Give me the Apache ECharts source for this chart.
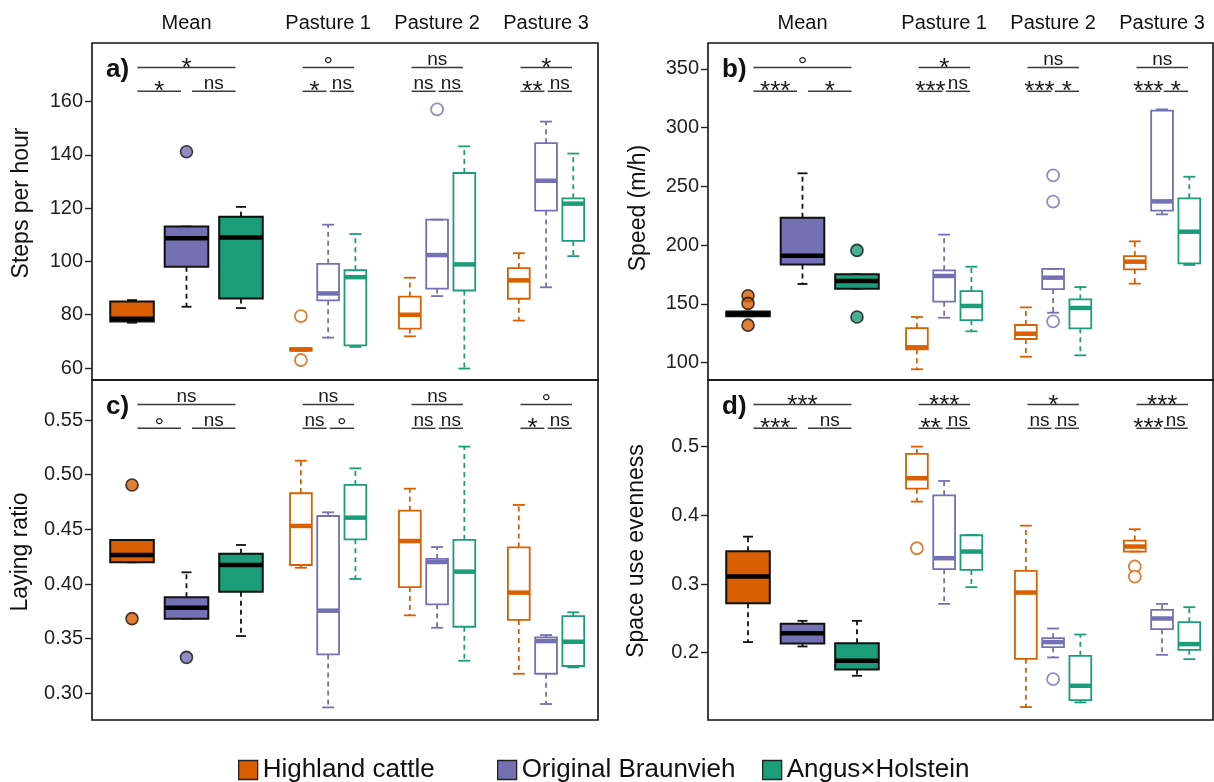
<!DOCTYPE html>
<html>
<head>
<meta charset="utf-8">
<script src="https://cdn.jsdelivr.net/npm/echarts@6/dist/echarts.min.js"></script>
<style>
  html, body { margin: 0; padding: 0; background: #fff; }
  #chart { width: 1214px; height: 782px; }
</style>
</head>
<body>
<div id="chart"></div>
<script>
// ---- data -------------------------------------------------------------
const groupNames = ['Mean', 'Pasture 1', 'Pasture 2', 'Pasture 3'];
const breedNames = ['Highland cattle', 'Original Braunvieh', 'Angus×Holstein'];

// Box statistics per group (Mean, Pasture 1, 2, 3):
// [lower whisker, Q1, median, Q3, upper whisker]
const stepsHighland  = [[77, 77.5, 78.5, 85, 85.5], [66.5, 66.5, 67, 67.4, 67.4], [71.9, 74.8, 80, 86.8, 93.9], [77.8, 86, 92.9, 97.5, 103.1]];
const stepsBraunvieh = [[83, 98, 108.7, 113.1, 113.1], [71.4, 85.4, 88, 99.1, 113.8], [87, 89.8, 102.4, 115.7, 115.7], [90.3, 119.1, 130.3, 144.4, 152.5]];
const stepsAngus     = [[82.5, 86.1, 109, 116.8, 120.5], [67.9, 68.5, 94.1, 96.7, 110.3], [59.8, 89.1, 98.9, 133.2, 143.2], [102, 107.7, 121.7, 123.7, 140.5]];
const stepsOutHighland  = [[], [79.5, 63.0], [], []];
const stepsOutBraunvieh = [[141.2], [], [157.1], []];
const stepsOutAngus     = [[], [], [], []];
const stepsTicks = [60, 80, 100, 120, 140, 160];
const stepsSig = [['*', '*', 'ns'], ['°', '*', 'ns'], ['ns', 'ns', 'ns'], ['*', '**', 'ns']];

const speedHighland  = [[139.5, 139.5, 141.5, 143.5, 143.5], [94.4, 111.4, 113.1, 129.5, 138.9], [105.1, 120.2, 124.7, 132.1, 147.1], [167.3, 179.5, 186, 190.8, 203.3]];
const speedBraunvieh = [[167, 183.7, 191.1, 223.4, 261.2], [138.3, 152, 173.8, 178.6, 209], [142.6, 162.7, 172.4, 179.8, 179.8], [226.3, 229.4, 237.3, 314.5, 315.6]];
const speedAngus     = [[163, 163, 169.5, 175.2, 175.2], [126.7, 136.3, 148.3, 161, 181.7], [106.3, 129.3, 146.6, 153.9, 164.4], [183.2, 184.6, 211.5, 239.9, 258.3]];
const speedOutHighland  = [[157, 150.5, 132], [], [], []];
const speedOutBraunvieh = [[], [], [259.5, 237.1, 135.2], []];
const speedOutAngus     = [[195.6, 138.9], [], [], []];
const speedTicks = [100, 150, 200, 250, 300, 350];
const speedSig = [['°', '***', '*'], ['*', '***', 'ns'], ['ns', '***', '*'], ['ns', '***', '*']];

const layingHighland  = [[0.4198, 0.4198, 0.4265, 0.4403, 0.4403], [0.4149, 0.4174, 0.4531, 0.4830, 0.5128], [0.3713, 0.3972, 0.4393, 0.4671, 0.4872], [0.3179, 0.3671, 0.3921, 0.4335, 0.4723]];
const layingBraunvieh = [[0.3683, 0.3683, 0.3783, 0.3878, 0.4107], [0.2871, 0.3356, 0.3756, 0.4622, 0.4656], [0.3600, 0.3814, 0.4201, 0.4229, 0.4338], [0.2902, 0.3179, 0.3478, 0.3512, 0.3533]];
const layingAngus     = [[0.3524, 0.3930, 0.4174, 0.4277, 0.4357], [0.4046, 0.4409, 0.4607, 0.4906, 0.5058], [0.3298, 0.3609, 0.4113, 0.4403, 0.5257], [0.3237, 0.3250, 0.3472, 0.3707, 0.3741]];
const layingOutHighland  = [[0.4906, 0.3683], [], [], []];
const layingOutBraunvieh = [[0.3329], [], [], []];
const layingOutAngus     = [[], [], [], []];
const layingTicks = [0.30, 0.35, 0.40, 0.45, 0.50, 0.55];
const layingSig = [['ns', '°', 'ns'], ['ns', 'ns', '°'], ['ns', 'ns', 'ns'], ['°', '*', 'ns']];

const evenHighland  = [[0.2154, 0.2721, 0.3109, 0.3478, 0.3690], [0.4200, 0.4389, 0.4540, 0.4894, 0.5001], [0.1208, 0.1911, 0.2876, 0.3191, 0.3850], [0.3473, 0.3473, 0.3546, 0.3633, 0.3798]];
const evenBraunvieh = [[0.2091, 0.2134, 0.2284, 0.2420, 0.2464], [0.2711, 0.3216, 0.3376, 0.4292, 0.4501], [0.1931, 0.2081, 0.2154, 0.2212, 0.2352], [0.1969, 0.2343, 0.2498, 0.2624, 0.2711]];
const evenAngus     = [[0.1664, 0.1756, 0.1882, 0.2139, 0.2464], [0.2954, 0.3206, 0.3473, 0.3710, 0.3715], [0.1276, 0.1310, 0.1518, 0.1955, 0.2265], [0.1906, 0.2042, 0.2125, 0.2445, 0.2663]];
const evenOutHighland  = [[], [0.3521], [], [0.3255, 0.3109]];
const evenOutBraunvieh = [[], [], [0.1615], []];
const evenOutAngus     = [[], [], [], []];
const evenTicks = [0.2, 0.3, 0.4, 0.5];
const evenSig = [['***', '***', 'ns'], ['***', '**', 'ns'], ['*', 'ns', 'ns'], ['***', '***', 'ns']];

// ---- layout & style ---------------------------------------------------
const FONT = '"Liberation Sans", Arial, Helvetica, sans-serif';
const COLORS = ['#D95F02', '#7570B3', '#1B9E77'];
const X_MIN = -0.469;

const panels = [
  { tag: 'a)', title: 'Steps per hour', grid: { left: 92, top: 43, width: 506, height: 337 }, xMax: 18.107,
    yMin: 55.5, yMax: 182, ticks: stepsTicks, digits: 0, sig: stepsSig,
    stats: [stepsHighland, stepsBraunvieh, stepsAngus], out: [stepsOutHighland, stepsOutBraunvieh, stepsOutAngus],
    titlePos: [22, 203], showGroups: true },
  { tag: 'b)', title: 'Speed (m/h)', grid: { left: 708, top: 43, width: 505, height: 337 }, xMax: 18.07,
    yMin: 85.3, yMax: 372.1, ticks: speedTicks, digits: 0, sig: speedSig,
    stats: [speedHighland, speedBraunvieh, speedAngus], out: [speedOutHighland, speedOutBraunvieh, speedOutAngus],
    titlePos: [639, 208], showGroups: true },
  { tag: 'c)', title: 'Laying ratio', grid: { left: 92, top: 380, width: 506, height: 340 }, xMax: 18.107,
    yMin: 0.2756, yMax: 0.5866, ticks: layingTicks, digits: 2, sig: layingSig,
    stats: [layingHighland, layingBraunvieh, layingAngus], out: [layingOutHighland, layingOutBraunvieh, layingOutAngus],
    titlePos: [21, 552], showGroups: false },
  { tag: 'd)', title: 'Space use evenness', grid: { left: 708, top: 380, width: 505, height: 340 }, xMax: 18.07,
    yMin: 0.102, yMax: 0.5971, ticks: evenTicks, digits: 1, sig: evenSig,
    stats: [evenHighland, evenBraunvieh, evenAngus], out: [evenOutHighland, evenOutBraunvieh, evenOutAngus],
    titlePos: [637, 551], showGroups: false }
];

// position of a box on the x scale: the mean group is spread wider
function boxPos(g, b) { return g === 0 ? 1 + 2 * b : 7.2 + 4 * (g - 1) + b; }
const groupCentres = [0, 1, 2, 3].map(g => boxPos(g, 1));

function boxRenderer(b) {
  return function (params, api) {
    const g = params.dataIndex;
    const isMean = g === 0;
    const x = api.value(0);
    const pLo = api.coord([x, api.value(1)]);
    const pQ1 = api.coord([x, api.value(2)]);
    const pMed = api.coord([x, api.value(3)]);
    const pQ3 = api.coord([x, api.value(4)]);
    const pHi = api.coord([x, api.value(5)]);
    const halfW = api.size([isMean ? 1.6 : 0.8, 0])[0] / 2;
    const cap = isMean ? 5 : 6;
    const cx = pMed[0];
    const lineCol = isMean ? '#111' : COLORS[b];
    const lw = 1.8;
    const dash = [5, 4];
    const children = [];
    if (pHi[1] < pQ3[1] - 0.5) {
      children.push({ type: 'line', shape: { x1: cx, y1: pQ3[1], x2: cx, y2: pHi[1] }, style: { stroke: lineCol, lineWidth: lw, lineDash: dash } });
    }
    if (pLo[1] > pQ1[1] + 0.5) {
      children.push({ type: 'line', shape: { x1: cx, y1: pQ1[1], x2: cx, y2: pLo[1] }, style: { stroke: lineCol, lineWidth: lw, lineDash: dash } });
    }
    children.push({ type: 'line', shape: { x1: cx - cap, y1: pHi[1], x2: cx + cap, y2: pHi[1] }, style: { stroke: lineCol, lineWidth: lw } });
    children.push({ type: 'line', shape: { x1: cx - cap, y1: pLo[1], x2: cx + cap, y2: pLo[1] }, style: { stroke: lineCol, lineWidth: lw } });
    children.push({
      type: 'rect',
      shape: { x: cx - halfW, y: pQ3[1], width: halfW * 2, height: pQ1[1] - pQ3[1] },
      style: { fill: isMean ? COLORS[b] : 'rgba(255,255,255,0)', stroke: lineCol, lineWidth: isMean ? 2 : 1.8 }
    });
    children.push({
      type: 'line',
      shape: { x1: cx - halfW, y1: pMed[1], x2: cx + halfW, y2: pMed[1] },
      style: { stroke: isMean ? '#000' : COLORS[b], lineWidth: 4.5 }
    });
    return { type: 'group', children };
  };
}

function sigStyle(label) {
  if (/^\*+$/.test(label)) return { size: 26, dy: 1 };
  if (label === '°') return { size: 24, dy: -1 };
  return { size: 19, dy: -8 };
}

function sigRenderer(p) {
  return function (params, api) {
    const g = params.dataIndex;
    const labels = p.sig[g];
    const top = params.coordSys.y;
    const yTop = top + 24.5;
    const yLow = top + 48.3;
    let spans;
    if (g === 0) {
      spans = [[1.2, 4.8], [1.2, 2.8], [3.2, 4.8]];
    } else {
      const base = boxPos(g, 0);
      spans = [[base + 0.06, base + 1.95], [base + 0.06, base + 0.94], [base + 1.06, base + 1.95]];
    }
    const ys = [yTop, yLow, yLow];
    const children = [];
    spans.forEach((s, k) => {
      const x1 = api.coord([s[0], p.yMin])[0];
      const x2 = api.coord([s[1], p.yMin])[0];
      children.push({ type: 'line', shape: { x1, y1: ys[k], x2, y2: ys[k] }, style: { stroke: '#3a3a3a', lineWidth: 1.5 } });
      const st = sigStyle(labels[k]);
      children.push({
        type: 'text', x: (x1 + x2) / 2, y: ys[k] + st.dy,
        style: { text: labels[k], font: st.size + 'px ' + FONT, fill: '#1a1a1a', align: 'center', verticalAlign: 'middle' }
      });
    });
    if (g === 0) {
      children.push({
        type: 'text', x: params.coordSys.x + 14, y: top + 27,
        style: { text: p.tag, font: 'bold 26px ' + FONT, fill: '#111', align: 'left', verticalAlign: 'middle' }
      });
    }
    return { type: 'group', children };
  };
}

// ---- option -----------------------------------------------------------
const series = [];
panels.forEach((p, i) => {
  p.stats.forEach((stats, b) => {
    series.push({
      name: breedNames[b], type: 'custom', xAxisIndex: i, yAxisIndex: i,
      itemStyle: { color: COLORS[b] },
      encode: { x: 0, y: [1, 2, 3, 4, 5] },
      data: stats.map((s, g) => [boxPos(g, b)].concat(s)),
      renderItem: boxRenderer(b), silent: true
    });
  });
  p.out.forEach((outs, b) => {
    const data = [];
    outs.forEach((vals, g) => vals.forEach(v => data.push({
      value: [boxPos(g, b), v],
      itemStyle: g === 0
        ? { color: COLORS[b], borderColor: '#111', borderWidth: 1.6 }
        : { color: '#fff', borderColor: COLORS[b], borderWidth: 1.8 }
    })));
    series.push({
      name: breedNames[b], type: 'scatter', xAxisIndex: i, yAxisIndex: i,
      symbol: 'circle', symbolSize: 12, data, silent: true
    });
  });
  series.push({
    type: 'custom', xAxisIndex: i, yAxisIndex: i, silent: true,
    encode: { x: 0, y: 1 },
    data: groupCentres.map(c => [c, p.yMin]),
    renderItem: sigRenderer(p)
  });
});

const option = {
  animation: false,
  backgroundColor: '#fff',
  textStyle: { fontFamily: FONT },
  grid: panels.map(p => Object.assign({ show: true, borderColor: '#111', borderWidth: 1.6, backgroundColor: 'transparent' }, p.grid)),
  xAxis: panels.map((p, i) => ({
    type: 'value', gridIndex: i, min: X_MIN, max: p.xMax, position: 'top', show: p.showGroups,
    axisLine: { show: false, onZero: false }, axisTick: { show: false }, splitLine: { show: false },
    axisLabel: {
      customValues: groupCentres, margin: 10, fontSize: 20, color: '#111', fontFamily: FONT,
      formatter: v => { const k = groupCentres.findIndex(c => Math.abs(c - v) < 0.01); return k >= 0 ? groupNames[k] : ''; }
    }
  })),
  yAxis: panels.map((p, i) => ({
    type: 'value', gridIndex: i, min: p.yMin, max: p.yMax, position: 'left',
    axisLine: { show: false, onZero: false }, splitLine: { show: false },
    axisTick: { show: true, length: 7, customValues: p.ticks, lineStyle: { color: '#222', width: 1.4 } },
    axisLabel: { customValues: p.ticks, margin: 9, fontSize: 20, color: '#222', fontFamily: FONT, formatter: v => v.toFixed(p.digits) }
  })),
  legend: [
    { left: 238, idx: 0 }, { left: 497, idx: 1 }, { left: 762, idx: 2 }
  ].map(l => ({
    left: l.left, top: 757, padding: 0, selectedMode: false, icon: 'rect',
    itemWidth: 19, itemHeight: 19, data: [breedNames[l.idx]],
    itemStyle: { borderColor: '#222', borderWidth: 1.3 },
    textStyle: { fontSize: 26, color: '#111', fontFamily: FONT }
  })),
  graphic: panels.map(p => ({
    type: 'text', x: p.titlePos[0], y: p.titlePos[1], rotation: Math.PI / 2,
    style: { text: p.title, font: '23px ' + FONT, fill: '#111', align: 'center', verticalAlign: 'middle' }
  })),
  series
};

const chart = echarts.init(document.getElementById('chart'), null, { renderer: 'canvas' });
chart.setOption(option);
</script>
</body>
</html>
